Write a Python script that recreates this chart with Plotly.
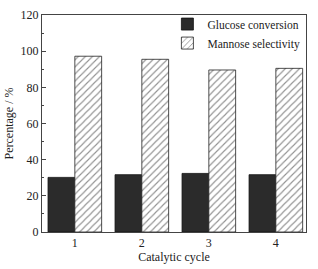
import plotly.graph_objects as go

cycles = [1, 2, 3, 4]
glucose_conversion = [30.2, 31.7, 32.4, 31.7]
mannose_selectivity = [97.2, 95.5, 89.6, 90.5]

font = "Liberation Serif, Times New Roman, serif"

fig = go.Figure()
fig.add_trace(go.Bar(
    x=cycles, y=glucose_conversion, name="Glucose conversion",
    marker=dict(color="#2b2b2b", line=dict(color="#111", width=0.8)),
))
fig.add_trace(go.Bar(
    x=cycles, y=mannose_selectivity, name="Mannose selectivity",
    marker=dict(color="white", line=dict(color="#222", width=0.8),
                pattern=dict(shape="/", size=5, solidity=0.22, fgcolor="#222", bgcolor="white")),
))

fig.update_layout(
    width=318, height=269,
    margin=dict(l=42, r=12, t=15, b=37, autoexpand=False),
    paper_bgcolor="white", plot_bgcolor="white",
    barmode="group", bargap=0.2, bargroupgap=0,
    font=dict(family=font, size=12, color="#222"),
    showlegend=True,
    legend=dict(x=0.475, y=1.025, xanchor="left", yanchor="top",
                bgcolor="rgba(0,0,0,0)", font=dict(size=11.5, family=font),
                itemwidth=30, tracegroupgap=0),
    xaxis=dict(
        range=[0.51, 4.45], tickvals=cycles, ticktext=[str(c) for c in cycles],
        showgrid=False, zeroline=False, showline=True, linecolor="#444", linewidth=1,
        mirror=True, ticks="", tickfont=dict(size=12, family=font), automargin=False,
        title=dict(text="Catalytic cycle", font=dict(size=12, family=font), standoff=2),
    ),
    yaxis=dict(
        range=[0, 120], dtick=20, showgrid=False, zeroline=False,
        showline=True, linecolor="#444", linewidth=1, mirror=True,
        ticks="inside", ticklen=4, tickcolor="#444", automargin=False,
        minor=dict(ticks="inside", ticklen=2, dtick=10, tickcolor="#444"),
        tickfont=dict(size=12, family=font),
        title=dict(text="Percentage / %", font=dict(size=12, family=font), standoff=4),
    ),
)

fig.write_html("out.html", config={"displayModeBar": False},
               post_script="document.body.style.margin='0';document.body.style.overflow='hidden';")
